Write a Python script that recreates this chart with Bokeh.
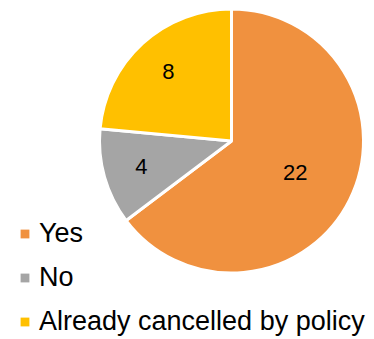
import numpy as np
from bokeh.plotting import figure
from bokeh.models import ColumnDataSource, Legend, LegendItem
from bokeh.core.properties import value
from bokeh.embed import file_html
from bokeh.resources import INLINE

categories = ["Yes", "No", "Already cancelled by policy"]
counts = [22, 4, 8]
colors = ["#F0913F", "#A5A5A5", "#FFC000"]

W, H = 374, 339
cx, cy, r = 231, H - 140.5, 132

vals = np.array(counts, dtype=float)
frac = vals / vals.sum()
cum = np.concatenate([[0], np.cumsum(frac)])
start = np.pi / 2 - 2 * np.pi * cum[:-1]
end = np.pi / 2 - 2 * np.pi * cum[1:]
mid = (start + end) / 2
lab_r = [0.54, 0.71, 0.71]
lx = [cx + lr * r * np.cos(m) for lr, m in zip(lab_r, mid)]
ly = [cy + lr * r * np.sin(m) for lr, m in zip(lab_r, mid)]

src = ColumnDataSource(dict(lx=lx, ly=ly, txt=[str(c) for c in counts]))

p = figure(width=W, height=H, x_range=(0, W), y_range=(0, H),
           output_backend="svg", toolbar_location=None, min_border=0)
p.axis.visible = False
p.grid.visible = False
p.outline_line_color = None
p.background_fill_color = "white"

for i in range(len(categories)):
    p.wedge(x=cx, y=cy, radius=r, start_angle=start[i], end_angle=end[i],
            direction="clock", fill_color=colors[i], line_color="white",
            line_width=3)

# legend-only swatches (NaN data, never drawn in the plot area)
swatches = []
for i in range(len(categories)):
    sw = p.quad(left=[np.nan], right=[np.nan], top=[np.nan], bottom=[np.nan],
                fill_color=colors[i], line_color=None)
    swatches.append(sw)

p.text(x="lx", y="ly", text="txt", source=src, text_align="center",
       text_baseline="middle", text_font=value("Liberation Sans"),
       text_font_size="22px", text_color="#000000")

legend = Legend(items=[LegendItem(label=categories[i], renderers=[swatches[i]])
                       for i in range(len(categories))],
                location=(19, 2), glyph_width=11, glyph_height=11,
                label_text_font="Liberation Sans",
                label_text_font_size="27px", label_text_color="#000000",
                label_standoff=9, spacing=12, label_height=32,
                background_fill_alpha=0, border_line_color=None,
                padding=0, margin=0)
p.add_layout(legend)

open("out.html", "w").write(file_html(p, INLINE))
